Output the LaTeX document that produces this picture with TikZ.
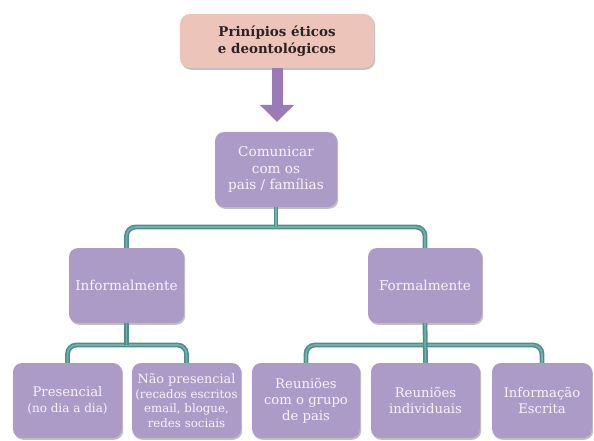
\documentclass[tikz,border=0pt]{standalone}
\usepackage{fontspec}
\setmainfont{DejaVu Serif}
\usetikzlibrary{shadows,arrows.meta}
\definecolor{peach}{HTML}{ECC4B9}
\definecolor{lilac}{HTML}{AD9BC7}
\definecolor{arrowpurple}{HTML}{9A7BB8}
\definecolor{tealdark}{HTML}{4C8F89}
\definecolor{teallight}{HTML}{72B0AA}
\definecolor{boxtext}{HTML}{F7F3FA}
\definecolor{titletext}{HTML}{2B2222}
\tikzset{
  shad/.style={drop shadow={shadow xshift=1.2pt, shadow yshift=-1.8pt, opacity=.35, fill=black!70}},
  box/.style={shad, fill=lilac, rounded corners=9pt, align=center, text=boxtext, inner sep=1pt,
    font=\fontsize{13.6}{16.5}\selectfont},
  leafbox/.style={box, font=\fontsize{13.2}{16}\selectfont},
  smallbox/.style={box, font=\fontsize{11.8}{14.6}\selectfont},
  titlebox/.style={shad, fill=peach, rounded corners=10pt, align=center, text=titletext,
    font=\bfseries\fontsize{13.4}{17}\selectfont},
  conn/.style={draw=tealdark, double=teallight, line width=1.6pt, double distance=1.6pt, rounded corners=9pt},
  bigarrow/.style={draw=arrowpurple, line width=11pt, -{Triangle[length=17pt,width=33pt]}}
}
\begin{document}
\begin{tikzpicture}[x=1pt,y=-1pt]
\useasboundingbox (0,0) rectangle (594,441);
\node[titlebox, minimum width=194pt, minimum height=54pt] (top) at (277,41) {Prinípios éticos\\e deontológicos};
\node[box, minimum width=122pt, minimum height=75pt] (com) at (276,169.5) {Comunicar\\com os\\pais / famílias};
\node[box, minimum width=115pt, minimum height=75pt] (inf) at (126.5,285.5) {Informalmente};
\node[box, minimum width=114pt, minimum height=75pt] (form) at (425,285.5) {Formalmente};
\node[leafbox, minimum width=109pt, minimum height=75pt] (pres) at (67.5,400.5) {Presencial\\{\fontsize{12}{15}\selectfont(no dia a dia)}};
\node[smallbox, minimum width=109pt, minimum height=75pt] (nao) at (186.5,400.5) {{\fontsize{12.8}{14.6}\selectfont Não presencial}\\(recados escritos\\email, blogue,\\redes sociais};
\node[leafbox, minimum width=108pt, minimum height=75pt] (reu1) at (306,400.5) {Reuniões\\com o grupo\\de pais};
\node[leafbox, minimum width=109pt, minimum height=75pt] (reu2) at (425.5,400.5) {Reuniões\\individuais};
\node[leafbox, minimum width=100pt, minimum height=75pt] (info) at (542,400.5) {Informação\\Escrita};
\coordinate (tip) at (top.south |- 0,122);
\coordinate (b1) at (277,227);
\coordinate (b2) at (126.5,345);
\coordinate (b3) at (425,345);
\draw[bigarrow] (top.south) -- (tip);
\draw[conn] (inf.north) |- (b1) -| (form.north);
\draw[conn] (com.south) -- (com.south |- b1);
\draw[conn] (pres.north) |- (b2) -| (nao.north);
\draw[conn] (inf.south) -- (inf.south |- b2);
\draw[conn] (reu1.north) |- (b3) -| (info.north);
\draw[conn] (form.south) -- (reu2.north);
\end{tikzpicture}
\end{document}
